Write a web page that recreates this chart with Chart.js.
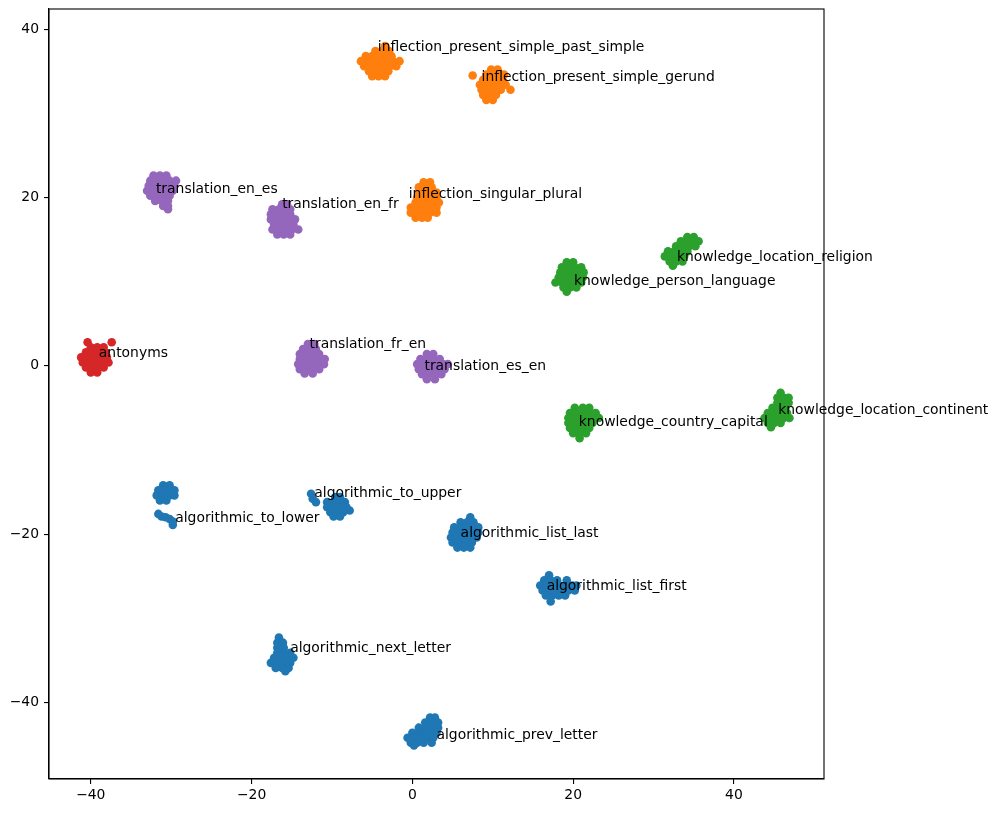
<!DOCTYPE html>
<html>
<head>
<meta charset="utf-8">
<script src="https://cdn.jsdelivr.net/npm/chart.js@4"></script>
<style>
  html, body { margin:0; padding:0; background:#fff; }
  #wrap { width:998px; height:813px; }
</style>
</head>
<body>
<div id="wrap"><canvas id="c" width="998" height="813"></canvas></div>
<script>
// axis setup
const X_TICKS = [-40, -20, 0, 20, 40];
const Y_TICKS = [-40, -20, 0, 20, 40];
const X_MIN = -45.2, X_MAX = 51.2;
const Y_MIN = -49.1, Y_MAX = 42.4;

// cluster points, grouped by colour family
const algorithmic = [
  // to_lower
  [-31.0,-14.2],[-30.2,-14.2],
  [-31.6,-14.8],[-30.8,-14.8],[-30.0,-14.8],[-29.6,-14.8],
  [-31.8,-15.4],[-31.0,-15.4],[-30.2,-15.4],[-29.6,-15.4],
  [-31.4,-16.0],[-30.6,-16.0],
  [-31.6,-17.6],[-31.2,-17.9],[-30.7,-18.0],[-30.2,-18.2],[-29.8,-18.5],[-29.8,-18.9],
  // to_upper
  [-12.6,-15.2],[-12.4,-15.8],[-12.0,-16.2],
  [-9.6,-15.6],[-9.0,-15.6],
  [-10.6,-16.2],[-9.8,-16.2],[-9.0,-16.2],[-8.4,-16.2],
  [-10.6,-16.8],[-9.8,-16.8],[-9.0,-16.8],[-8.2,-16.8],
  [-7.8,-17.2],
  [-10.2,-17.4],[-9.4,-17.4],[-8.6,-17.4],
  [-9.8,-17.9],[-9.0,-17.9],
  // list_last
  [7.2,-18.0],
  [6.0,-18.6],[6.8,-18.6],[7.6,-18.6],
  [5.2,-19.2],[6.0,-19.2],[6.8,-19.2],[7.6,-19.2],[8.2,-19.2],
  [5.0,-19.8],[5.8,-19.8],[6.6,-19.8],[7.4,-19.8],[8.2,-19.8],
  [4.8,-20.4],[5.6,-20.4],[6.4,-20.4],[7.2,-20.4],[8.0,-20.4],
  [5.0,-21.0],[5.8,-21.0],[6.6,-21.0],[7.4,-21.0],
  [5.6,-21.6],[6.4,-21.6],[7.2,-21.6],
  // list_first
  [17.0,-24.9],
  [16.4,-25.5],[17.2,-25.5],[18.0,-25.5],[19.2,-25.5],
  [15.9,-26.1],[16.7,-26.1],[17.5,-26.1],[18.3,-26.1],[19.1,-26.1],[19.9,-26.1],[20.4,-26.1],
  [16.2,-26.7],[17.0,-26.7],[17.8,-26.7],[18.6,-26.7],[19.4,-26.7],[20.2,-26.7],
  [16.6,-27.3],[17.4,-27.3],[18.2,-27.3],[19.0,-27.3],
  [17.2,-28.0],
  // next_letter
  [-16.6,-32.3],
  [-16.8,-32.9],[-16.1,-32.9],
  [-16.8,-33.5],[-16.0,-33.5],
  [-16.8,-34.1],[-16.0,-34.1],[-15.2,-34.1],
  [-17.2,-34.7],[-16.4,-34.7],[-15.6,-34.7],[-14.8,-34.7],
  [-17.6,-35.3],[-16.8,-35.3],[-16.0,-35.3],[-15.2,-35.3],
  [-17.0,-35.9],[-16.2,-35.9],[-15.4,-35.9],
  [-15.8,-36.3],
  // prev_letter
  [2.2,-41.8],[2.8,-41.8],
  [1.6,-42.4],[2.4,-42.4],[3.2,-42.4],
  [0.8,-43.0],[1.6,-43.0],[2.4,-43.0],[3.2,-43.0],
  [0.0,-43.6],[0.8,-43.6],[1.6,-43.6],[2.4,-43.6],[3.0,-43.6],
  [-0.6,-44.2],[0.2,-44.2],[1.0,-44.2],[1.8,-44.2],[2.6,-44.2],
  [-0.2,-44.8],[0.6,-44.8],[1.4,-44.8],[2.4,-44.8],
  [0.2,-45.1]
];

const inflection = [
  // present_simple_past_simple
  [-3.4,38.0],
  [-4.6,37.4],[-3.8,37.4],[-2.9,37.4],
  [-5.8,36.8],[-5.0,36.8],[-4.2,36.8],[-3.4,36.8],[-2.6,36.8],
  [-6.4,36.2],[-5.6,36.2],[-4.8,36.2],[-4.0,36.2],[-3.2,36.2],[-2.4,36.2],[-1.6,36.2],
  [-6.0,35.6],[-5.2,35.6],[-4.4,35.6],[-3.6,35.6],[-2.8,35.6],[-2.0,35.6],
  [-5.4,35.0],[-4.6,35.0],[-3.8,35.0],[-3.0,35.0],
  [-5.0,34.4],[-4.2,34.4],[-3.4,34.4],
  // present_simple_gerund
  [7.5,34.5],
  [9.8,35.2],[10.6,35.2],
  [9.2,34.6],[10.0,34.6],[10.8,34.6],[11.4,34.6],
  [8.8,34.0],[9.6,34.0],[10.4,34.0],[11.2,34.0],
  [8.4,33.4],[9.2,33.4],[10.0,33.4],[10.8,33.4],[11.6,33.4],
  [8.6,32.8],[9.4,32.8],[10.2,32.8],[11.0,32.8],[12.2,32.8],
  [8.8,32.2],[9.6,32.2],[10.4,32.2],
  [9.2,31.6],[10.0,31.6],
  // singular_plural
  [1.4,21.8],[2.2,21.8],
  [0.8,21.2],[1.6,21.2],[2.4,21.2],
  [0.8,20.6],[1.6,20.6],[2.4,20.6],[3.0,20.6],
  [0.6,20.0],[1.4,20.0],[2.2,20.0],[3.0,20.0],
  [0.4,19.4],[1.2,19.4],[2.0,19.4],[2.8,19.4],[3.3,19.4],
  [-0.2,18.8],[0.6,18.8],[1.4,18.8],[2.2,18.8],[3.0,18.8],
  [-0.2,18.2],[0.6,18.2],[1.4,18.2],[2.2,18.2],[3.0,18.2],
  [0.4,17.6],[1.2,17.6],[1.9,17.6]
];

const knowledge = [
  // location_religion
  [34.2,15.3],[35.0,15.3],
  [33.4,14.8],[34.2,14.8],[35.0,14.8],[35.6,14.8],
  [32.8,14.2],[33.6,14.2],[34.4,14.2],[35.2,14.2],
  [31.8,13.6],[32.6,13.6],[33.4,13.6],[34.2,13.6],
  [31.4,13.0],[32.2,13.0],[33.0,13.0],[33.8,13.0],
  [32.0,12.4],[32.8,12.4],[33.6,12.4],
  [32.4,11.9],
  // person_language
  [19.2,12.3],[20.0,12.3],
  [18.6,11.7],[19.4,11.7],[20.2,11.7],[21.0,11.7],
  [18.4,11.1],[19.2,11.1],[20.0,11.1],[20.8,11.1],[21.3,11.1],
  [18.2,10.5],[19.0,10.5],[19.8,10.5],[20.6,10.5],[21.2,10.5],
  [17.8,9.9],[18.6,9.9],[19.4,9.9],[20.2,9.9],[21.0,9.9],
  [18.8,9.3],[19.6,9.3],[20.4,9.3],
  [19.2,8.8],
  // country_capital
  [20.2,-5.0],[21.2,-5.0],[22.0,-5.0],
  [19.6,-5.6],[20.4,-5.6],[21.2,-5.6],[22.0,-5.6],[22.8,-5.6],
  [19.4,-6.2],[20.2,-6.2],[21.0,-6.2],[21.8,-6.2],[22.6,-6.2],[23.2,-6.2],
  [19.4,-6.8],[20.2,-6.8],[21.0,-6.8],[21.8,-6.8],[22.4,-6.8],
  [19.6,-7.4],[20.4,-7.4],[21.2,-7.4],[22.0,-7.4],
  [20.0,-8.0],[20.8,-8.0],[21.6,-8.0],
  [20.8,-8.6],
  // location_continent
  [45.8,-3.2],
  [45.4,-3.8],[46.2,-3.8],[46.8,-3.8],
  [45.4,-4.4],[46.2,-4.4],[46.8,-4.4],
  [44.8,-5.0],[45.6,-5.0],[46.4,-5.0],
  [44.2,-5.6],[45.0,-5.6],[45.8,-5.6],[46.6,-5.6],
  [43.8,-6.2],[44.6,-6.2],[45.4,-6.2],[46.2,-6.2],[46.9,-6.2],
  [44.2,-6.8],[45.0,-6.8],[45.8,-6.8],
  [44.6,-7.3]
];

const antonyms = [
  [-40.4,2.8],[-37.4,2.8],
  [-40.0,2.2],[-39.2,2.2],[-38.4,2.2],
  [-40.6,1.6],[-39.8,1.6],[-39.0,1.6],[-38.2,1.6],
  [-41.2,1.0],[-40.4,1.0],[-39.6,1.0],[-38.8,1.0],[-38.0,1.0],
  [-41.0,0.4],[-40.2,0.4],[-39.4,0.4],[-38.6,0.4],[-37.8,0.4],
  [-40.6,-0.2],[-39.8,-0.2],[-39.0,-0.2],[-38.4,-0.2],
  [-40.0,-0.8],[-39.2,-0.8]
];

const translation = [
  // en_es
  [-32.2,22.6],[-31.4,22.6],[-30.6,22.6],
  [-32.6,22.0],[-31.8,22.0],[-31.0,22.0],[-30.2,22.0],[-29.4,22.0],
  [-32.8,21.4],[-32.0,21.4],[-31.2,21.4],[-30.4,21.4],[-29.6,21.4],
  [-33.0,20.8],[-32.2,20.8],[-31.4,20.8],[-30.6,20.8],[-29.8,20.8],
  [-32.6,20.2],[-31.8,20.2],[-31.0,20.2],[-30.2,20.2],
  [-32.0,19.6],[-31.2,19.6],[-30.4,19.6],
  [-31.0,19.0],[-30.4,19.0],
  [-30.4,18.6],
  // en_fr
  [-16.2,19.2],[-15.6,19.2],
  [-17.4,18.6],[-16.6,18.6],[-15.8,18.6],[-15.2,18.6],
  [-17.6,18.0],[-16.8,18.0],[-16.0,18.0],[-15.2,18.0],
  [-17.6,17.4],[-16.8,17.4],[-16.0,17.4],[-15.2,17.4],[-14.6,17.4],
  [-17.2,16.8],[-16.4,16.8],[-15.6,16.8],[-14.8,16.8],
  [-17.4,16.2],[-16.6,16.2],[-15.8,16.2],[-15.0,16.2],[-14.2,16.2],
  [-16.8,15.6],[-16.0,15.6],[-15.2,15.6],
  // fr_en
  [-13.0,2.6],[-12.2,2.6],
  [-13.6,2.0],[-12.8,2.0],[-12.0,2.0],
  [-14.0,1.4],[-13.2,1.4],[-12.4,1.4],[-11.6,1.4],
  [-14.0,0.8],[-13.2,0.8],[-12.4,0.8],[-11.6,0.8],[-10.9,0.8],
  [-14.2,0.2],[-13.4,0.2],[-12.6,0.2],[-11.8,0.2],[-11.0,0.2],
  [-14.0,-0.4],[-13.2,-0.4],[-12.4,-0.4],[-11.6,-0.4],
  [-13.4,-0.9],[-12.4,-0.9],
  // es_en
  [1.8,1.4],[2.6,1.4],
  [1.0,0.8],[1.8,0.8],[2.6,0.8],[3.4,0.8],
  [0.6,0.2],[1.4,0.2],[2.2,0.2],[3.0,0.2],[3.8,0.2],[4.4,0.2],
  [0.8,-0.4],[1.6,-0.4],[2.4,-0.4],[3.2,-0.4],[4.0,-0.4],
  [1.2,-1.0],[2.0,-1.0],[2.8,-1.0],[3.6,-1.0],
  [1.8,-1.6],[2.8,-1.6]
];

// task labels: text, x, y (text baseline start)
const labelText = [
  'inflection_present_simple_past_simple','inflection_present_simple_gerund','inflection_singular_plural',
  'translation_en_es','translation_en_fr','knowledge_location_religion','knowledge_person_language',
  'antonyms','translation_fr_en','translation_es_en','knowledge_country_capital','knowledge_location_continent',
  'algorithmic_to_upper','algorithmic_to_lower','algorithmic_list_last','algorithmic_list_first',
  'algorithmic_next_letter','algorithmic_prev_letter'
];
const labelX = [-4.3, 8.6, -0.45, -31.9, -16.2, 32.9, 20.1, -39.0, -12.8, 1.5, 20.7, 45.5, -12.2, -29.5, 6.0, 16.7, -15.2, 3.0];
const labelY = [37.4, 33.8, 20.0, 20.5, 18.7, 12.4, 9.6, 1.1, 2.1, -0.5, -7.2, -5.7, -15.6, -18.6, -20.3, -26.7, -34.0, -44.4];

const FONT = 'DejaVu Sans';
const toXY = arr => arr.map(p => ({ x:p[0], y:p[1] }));
const fmt = v => (v < 0 ? '\u2212' + Math.abs(v) : '' + v);

function ds(data, color){
  return {
    data: toXY(data),
    backgroundColor: color, borderWidth: 0,
    pointRadius: 4.3, pointHoverRadius: 4.3
  };
}

const labelPlugin = {
  id: 'taskLabels',
  afterDatasetsDraw(chart){
    const { ctx, scales:{ x, y } } = chart;
    ctx.save();
    ctx.font = '13.9px "' + FONT + '"';
    ctx.fillStyle = '#000';
    ctx.textAlign = 'left';
    ctx.textBaseline = 'alphabetic';
    labelText.forEach((t, i) => ctx.fillText(t, x.getPixelForValue(labelX[i]), y.getPixelForValue(labelY[i])));
    // full frame like the matplotlib spines
    const a = chart.chartArea;
    ctx.strokeStyle = '#000';
    ctx.lineWidth = 1.1;
    ctx.strokeRect(a.left, a.top, a.right - a.left, a.bottom - a.top);
    ctx.restore();
  }
};

const tickFont = { family: FONT, size: 13.9 };

new Chart(document.getElementById('c'), {
  type: 'scatter',
  data: {
    datasets: [
      ds(algorithmic, '#1f77b4'),
      ds(inflection, '#ff7f0e'),
      ds(knowledge, '#2ca02c'),
      ds(antonyms, '#d62728'),
      ds(translation, '#9467bd')
    ]
  },
  options: {
    responsive: false, animation: false,
    layout: { padding: { top: 9, right: 174, left: 0, bottom: 0 } },
    plugins: { legend: { display: false }, tooltip: { enabled: false } },
    scales: {
      x: {
        type: 'linear', min: X_MIN, max: X_MAX,
        afterBuildTicks: s => { s.ticks = X_TICKS.map(v => ({ value: v })); },
        afterFit: s => { s.height = 34; s.paddingLeft = 0; s.paddingRight = 0; },
        grid: { display: true, drawOnChartArea: false, drawTicks: true, tickLength: 5, color: '#000', lineWidth: 1.1 },
        border: { display: true, color: '#000', width: 1.1 },
        ticks: { color: '#000', font: tickFont, padding: 3, maxRotation: 0, callback: fmt }
      },
      y: {
        type: 'linear', min: Y_MIN, max: Y_MAX,
        afterBuildTicks: s => { s.ticks = Y_TICKS.map(v => ({ value: v })); },
        afterFit: s => { s.width = 49; s.paddingTop = 0; s.paddingBottom = 0; },
        grid: { display: true, drawOnChartArea: false, drawTicks: true, tickLength: 5, color: '#000', lineWidth: 1.1 },
        border: { display: true, color: '#000', width: 1.1 },
        ticks: { color: '#000', font: tickFont, padding: 5, callback: fmt }
      }
    }
  },
  plugins: [labelPlugin]
});
</script>
</body>
</html>
